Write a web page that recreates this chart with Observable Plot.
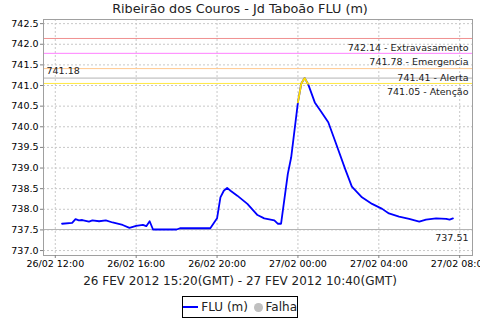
<!DOCTYPE html>
<html><head><meta charset="utf-8">
<script src="https://cdn.jsdelivr.net/npm/d3@7"></script>
<script src="https://cdn.jsdelivr.net/npm/@observablehq/plot@0.6"></script>
<style>
body{margin:0;background:#fff;font-family:"DejaVu Sans",sans-serif;}
#wrap{position:relative;width:480px;height:320px;overflow:hidden;}
#title{position:absolute;top:0;left:0;width:480px;text-align:center;font-size:12.8px;line-height:18px;color:#222;}
#sub{position:absolute;top:273px;left:0;width:480px;text-align:center;font-size:12px;line-height:16px;color:#222;}
#legend{position:absolute;top:296px;left:182px;width:116px;height:22px;border:1px solid #000;box-sizing:border-box;font-size:12px;line-height:20px;color:#222;display:flex;align-items:center;justify-content:center;gap:3px;white-space:nowrap;}
#legend .ln{display:inline-block;width:16px;height:2px;background:#0000ff;}
#legend .dot{display:inline-block;width:9px;height:9px;border-radius:50%;background:#c0c0c0;margin-left:3px;}
svg{position:absolute;top:0;left:0;}
</style></head>
<body><div id="wrap">
<div id="title">Ribeirão dos Couros - Jd Taboão FLU (m)</div>
<div id="sub">26 FEV 2012 15:20(GMT) - 27 FEV 2012 10:40(GMT)</div>
<div id="legend"><span class="ln"></span><span>FLU (m)</span><span class="dot"></span><span>Falha</span></div>
</div>
<script>
const times = ["2012-02-26T12:20","2012-02-26T12:50","2012-02-26T13:00","2012-02-26T13:10","2012-02-26T13:20","2012-02-26T13:40","2012-02-26T13:50","2012-02-26T14:10","2012-02-26T14:30","2012-02-26T14:50","2012-02-26T15:20","2012-02-26T15:40","2012-02-26T16:00","2012-02-26T16:20","2012-02-26T16:30","2012-02-26T16:40","2012-02-26T16:50","2012-02-26T18:00","2012-02-26T18:10","2012-02-26T19:40","2012-02-26T20:00","2012-02-26T20:10","2012-02-26T20:20","2012-02-26T20:30","2012-02-26T20:40","2012-02-26T21:00","2012-02-26T21:30","2012-02-26T22:00","2012-02-26T22:20","2012-02-26T22:50","2012-02-26T23:00","2012-02-26T23:10","2012-02-26T23:30","2012-02-26T23:40","2012-02-27T00:00","2012-02-27T00:10","2012-02-27T00:20","2012-02-27T00:30","2012-02-27T00:50","2012-02-27T01:10","2012-02-27T01:30","2012-02-27T01:50","2012-02-27T02:20","2012-02-27T02:40","2012-02-27T03:10","2012-02-27T03:40","2012-02-27T04:10","2012-02-27T04:30","2012-02-27T05:00","2012-02-27T05:30","2012-02-27T06:00","2012-02-27T06:20","2012-02-27T06:50","2012-02-27T07:20","2012-02-27T07:30","2012-02-27T07:40"];
const levels = [737.65,737.67,737.76,737.73,737.74,737.70,737.73,737.71,737.73,737.68,737.62,737.55,737.60,737.62,737.59,737.71,737.51,737.51,737.54,737.54,737.78,738.29,738.45,738.52,738.45,738.33,738.13,737.86,737.78,737.73,737.65,737.65,738.86,739.26,740.59,741.05,741.18,741.04,740.59,740.35,740.11,739.66,738.98,738.55,738.29,738.13,738.01,737.90,737.82,737.77,737.70,737.75,737.78,737.77,737.75,737.78];
const thresholdValues = [742.14, 741.78, 741.41, 741.05];
const thresholdNames = ["Extravasamento","Emergencia","Alerta","Atenção"];
const thresholdColors = ["#f09090","#ff80ff","#ffc890","#ffe840"];
const maxValue = 741.18;
const minValue = 737.51;
const yTicks = [737.0,737.5,738.0,738.5,739.0,739.5,740.0,740.5,741.0,741.5,742.0,742.5];
const xTickLabels = ["2012-02-26T12:00","2012-02-26T16:00","2012-02-26T20:00","2012-02-27T00:00","2012-02-27T04:00","2012-02-27T08:00"];

const parse = s => new Date(s + ":00Z");
const data = times.map((t,i) => ({t: parse(t), v: levels[i]}));
const alertData = data.filter((d,i) => d.v >= 741.0 || (i+1 < data.length && data[i+1].v >= 741.05));
const th = thresholdValues.map((v,i) => ({v, name: thresholdNames[i], color: thresholdColors[i]}));
const xTicks = xTickLabels.map(parse);
const fmt = d3.utcFormat("%d/%m %H:%M");

const chart = Plot.plot({
  width: 480, height: 320,
  marginLeft: 43, marginRight: 8, marginTop: 19, marginBottom: 65,
  style: {fontFamily: "DejaVu Sans, sans-serif", fontSize: "9.5px", color: "#000", background: "transparent"},
  x: {type: "utc", domain: [parse("2012-02-26T11:25"), parse("2012-02-27T08:38")]},
  y: {domain: [736.88, 742.60]},
  marks: [
    Plot.gridX(xTicks, {stroke: "#c8c8c8", strokeOpacity: 1, strokeDasharray: "2,2"}),
    Plot.gridY(yTicks, {stroke: "#c8c8c8", strokeOpacity: 1, strokeDasharray: "2,2"}),
    Plot.ruleY(th, {y: "v", stroke: "color", strokeWidth: 1}),
    Plot.ruleY([maxValue, minValue], {stroke: "#b4b4b4", strokeWidth: 1}),
    Plot.text(th, {y: "v", text: d => `${d.v.toFixed(2)} - ${d.name}`, frameAnchor: "right", textAnchor: "end", dx: -4, dy: 9, fill: "#222", fontSize: 9.5}),
    Plot.text([maxValue], {y: d => d, text: d => d.toFixed(2), frameAnchor: "left", textAnchor: "start", dx: 3, dy: -7, fill: "#222", fontSize: 9.5}),
    Plot.text([minValue], {y: d => d, text: d => d.toFixed(2), frameAnchor: "right", textAnchor: "end", dx: -4, dy: 8, fill: "#222", fontSize: 9.5}),
    Plot.line(data, {x: "t", y: "v", stroke: "#0000ff", strokeWidth: 1.8}),
    Plot.line(alertData, {x: "t", y: "v", stroke: "#ffe000", strokeWidth: 1.8}),
    Plot.frame({stroke: "#a0a0a0"}),
    Plot.axisX(xTicks, {tickFormat: fmt, tickSize: 3, tickPadding: 2, stroke: "#808080", fill: "#000", fontSize: 9.5, label: null}),
    Plot.axisY(yTicks, {tickFormat: d3.format(".1f"), tickSize: 3, tickPadding: 2, stroke: "#808080", fill: "#000", fontSize: 9.5, label: null})
  ]
});
document.getElementById("wrap").appendChild(chart);
</script>
</body></html>
